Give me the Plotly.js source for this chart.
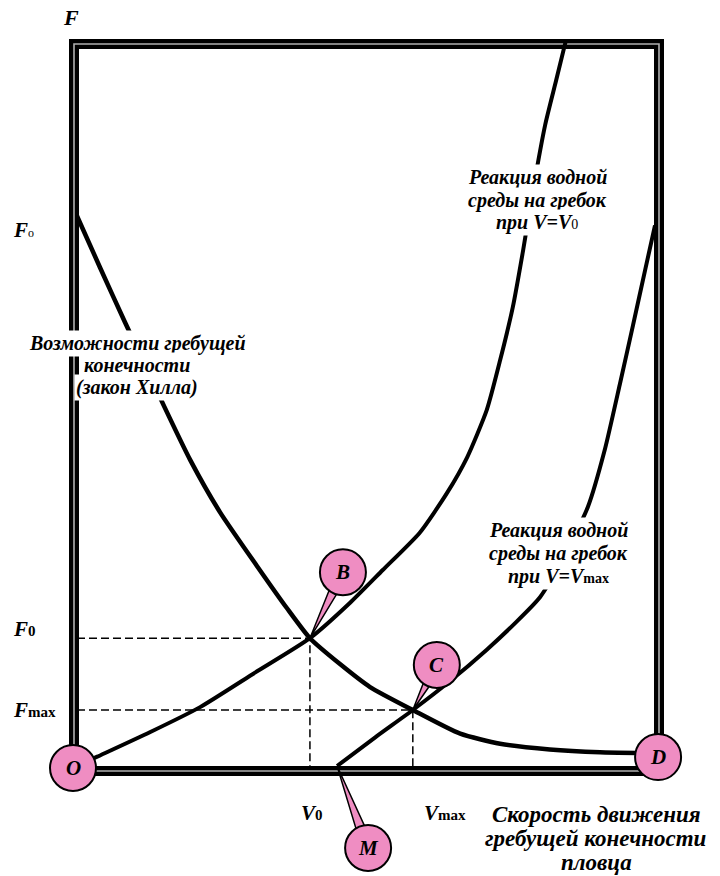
<!DOCTYPE html>
<html><head><meta charset="utf-8">
<script src="https://cdn.plot.ly/plotly-3.0.1.min.js"></script>
<style>html,body{margin:0;padding:0;background:#fff}</style>
</head><body><div id="chart" style="width:720px;height:876px"></div>
<script>
// Hill curve: capability of the rowing limb (force vs limb speed)
const hillV = [0, 0.40, 0.83, 1.18, 1.49, 1.96, 2.47, 3.11, 3.63, 4.03, 4.55, 5.07, 5.81, 6.63, 7.32, 8.18, 9.05, 9.69];
const hillF = [7.66, 6.94, 6.18, 5.58, 5.04, 4.26, 3.54, 2.79, 2.20, 1.78, 1.42, 1.10, 0.78, 0.45, 0.31, 0.23, 0.19, 0.18];
// Water reaction on the paddle at V = V0
const reactV0V = [0, 0.35, 1.26, 2.13, 3.08, 4.03, 4.72, 5.29, 5.93, 6.40, 6.75, 7.09, 7.32, 7.54, 7.72, 7.89, 8.10, 8.29, 8.46];
const reactV0F = [0, 0.13, 0.47, 0.82, 1.30, 1.78, 2.27, 2.73, 3.25, 3.80, 4.30, 4.96, 5.65, 6.39, 7.19, 8.02, 8.93, 9.55, 10.11];
// Water reaction on the paddle at V = Vmax
const reactVmaxV = [4.50, 5.16, 5.81, 6.45, 7.09, 7.58, 8.01, 8.44, 8.84, 9.13, 9.39, 9.62, 9.83, 10.0];
const reactVmaxF = [0, 0.40, 0.78, 1.18, 1.62, 1.99, 2.35, 2.94, 3.61, 4.40, 5.31, 6.14, 6.91, 7.53];
// Key values
const V0 = 4.03, F0 = 1.78, Vmax = 5.81, Fmax = 0.78;
const pointLabels = ['O', 'B', 'C', 'D', 'M'];
// Text labels
const hillLabel = ['Возможности гребущей', 'конечности', '(закон Хилла)'];
const reactV0Label = ['Реакция водной', 'среды на гребок', 'при V=V<span style="font-style:normal;font-weight:normal;font-size:14px">0</span>'];
const reactVmaxLabel = ['Реакция водной', 'среды на гребок', 'при V=V<span style="font-style:normal;font-size:14px">max</span>'];
const xTitle = ['Скорость движения', 'гребущей конечности', 'пловца'];

const FONT = 'Liberation Serif, Times New Roman, serif';
const PINK = '#EF8DC2';
const W = 720, H = 876;
const px = v => v / W;            // paper x from pixel
const py = v => 1 - v / H;        // paper y from pixel

const curve = (x, y, w) => ({
  type: 'scatter', mode: 'lines', x: x, y: y, hoverinfo: 'skip',
  line: {color: '#000', width: w, shape: 'spline', smoothing: 0.6}
});
const dashed = (x, y) => ({
  type: 'scatter', mode: 'lines', x: x, y: y, hoverinfo: 'skip',
  line: {color: '#000', width: 1.5, dash: '8px,4px'}
});

const traces = [
  dashed([0, V0, V0], [F0, F0, 0]),
  dashed([0, Vmax, Vmax], [Fmax, Fmax, 0]),
  curve(hillV, hillF, 4.5),
  curve(reactV0V, reactV0F, 4),
  curve(reactVmaxV, reactVmaxF, 4)
];

// anchor points for the labelled circles
const anchors = {
  O: [0, 0],
  B: [V0, F0],
  C: [Vmax, Fmax],
  D: [hillV[hillV.length - 1], hillF[hillF.length - 1]],
  M: [reactVmaxV[0], reactVmaxF[0]]
};
// circle centre offsets in pixels (dx right, dy up) and whether a pointer tail is drawn
const bubble = {
  O: {dx: -4, dy: -2, tail: false},
  B: {dx: 33, dy: 66, tail: true},
  C: {dx: 24, dy: 45, tail: true},
  D: {dx: 21, dy: -4, tail: false},
  M: {dx: 31, dy: -82, tail: true}
};
const R = 23;

const shapes = [];
// double frame
const frame = {x0: px(74), x1: px(659), y0: py(771), y1: py(44)};
shapes.push(Object.assign({type: 'rect', xref: 'paper', yref: 'paper', layer: 'below',
  line: {color: '#000', width: 10}}, frame));
shapes.push(Object.assign({type: 'rect', xref: 'paper', yref: 'paper', layer: 'below',
  line: {color: '#b0b0b0', width: 1.6}}, frame));

const bi = (size) => ({family: FONT, size: size, color: '#000', weight: 'bold', style: 'italic'});
const sub = (t, s, w) => `<span style="font-style:normal;font-size:${s}px;font-weight:${w || 'bold'}">${t}</span>`;

const annotations = [];
pointLabels.forEach(k => {
  const a = anchors[k], b = bubble[k];
  if (b.tail) {
    const len = Math.hypot(b.dx, b.dy);
    const nx = -b.dy / len, ny = b.dx / len, hw = 6;
    const p1 = [b.dx + nx * hw, b.dy + ny * hw], p2 = [b.dx - nx * hw, b.dy - ny * hw];
    shapes.push({type: 'path', xref: 'x', yref: 'y', xsizemode: 'pixel', ysizemode: 'pixel',
      xanchor: a[0], yanchor: a[1],
      path: `M0,0 L${p1[0].toFixed(1)},${p1[1].toFixed(1)} L${p2[0].toFixed(1)},${p2[1].toFixed(1)} Z`,
      fillcolor: PINK, line: {color: '#000', width: 1.5}});
  }
  shapes.push({type: 'circle', xref: 'x', yref: 'y', xsizemode: 'pixel', ysizemode: 'pixel',
    xanchor: a[0], yanchor: a[1], x0: b.dx - R, x1: b.dx + R, y0: b.dy - R, y1: b.dy + R,
    fillcolor: PINK, line: {color: '#000', width: 2}});
  annotations.push({xref: 'x', yref: 'y', x: a[0], y: a[1], xshift: b.dx, yshift: b.dy,
    text: k, showarrow: false, xanchor: 'center', yanchor: 'middle',
    font: bi(21)});
});

// multi-line label with tight line spacing (one annotation per line)
function block(lines, cx, cy, spacing, size, bg) {
  const n = lines.length;
  lines.forEach((t, i) => {
    annotations.push({xref: 'paper', yref: 'paper', x: px(cx), y: py(cy + (i - (n - 1) / 2) * spacing),
      xanchor: 'center', yanchor: 'middle', text: t, showarrow: false,
      bgcolor: bg ? '#fff' : 'rgba(0,0,0,0)', borderpad: bg ? 1 : 0, font: bi(size)});
  });
}

annotations.push(
  {xref: 'paper', yref: 'paper', x: px(71), y: py(17), xanchor: 'center', yanchor: 'middle',
   text: 'F', showarrow: false, font: bi(22)},
  {xref: 'paper', yref: 'y', x: px(11), xanchor: 'left', yanchor: 'middle', y: hillF[0], yshift: -14,
   text: 'F' + sub('o', 12, 'normal'), showarrow: false, font: bi(21)},
  {xref: 'paper', yref: 'y', x: px(11), xanchor: 'left', yanchor: 'middle', y: F0, yshift: 9,
   text: 'F' + sub('0', 15), showarrow: false, font: bi(21)},
  {xref: 'paper', yref: 'y', x: px(11), xanchor: 'left', yanchor: 'middle', y: Fmax, yshift: 0,
   text: 'F' + sub('max', 15), showarrow: false, font: bi(21)},
  {xref: 'x', yref: 'paper', x: V0, xanchor: 'center', xshift: 2, y: py(813), yanchor: 'middle',
   text: 'V' + sub('0', 15), showarrow: false, font: bi(21)},
  {xref: 'x', yref: 'paper', x: Vmax, xanchor: 'left', xshift: 9, y: py(813), yanchor: 'middle',
   text: 'V' + sub('max', 15), showarrow: false, font: bi(21)}
);
block(hillLabel, 137, 365, 22, 20, true);
block(reactV0Label, 537, 200, 22.5, 20, true);
block(reactVmaxLabel, 558, 553, 23, 20, true);
block(xTitle, 596, 838, 24, 23, false);

const layout = {
  width: W, height: H,
  margin: {l: 0, r: 0, t: 0, b: 0, pad: 0},
  paper_bgcolor: '#fff', plot_bgcolor: '#fff',
  showlegend: false,
  xaxis: {range: [-77 / 57.8, 643 / 57.8], visible: false, fixedrange: true},
  yaxis: {range: [-110 / 71.8, 766 / 71.8], visible: false, fixedrange: true},
  shapes: shapes,
  annotations: annotations
};

Plotly.newPlot('chart', traces, layout, {staticPlot: true, displayModeBar: false});
</script>
</body></html>
